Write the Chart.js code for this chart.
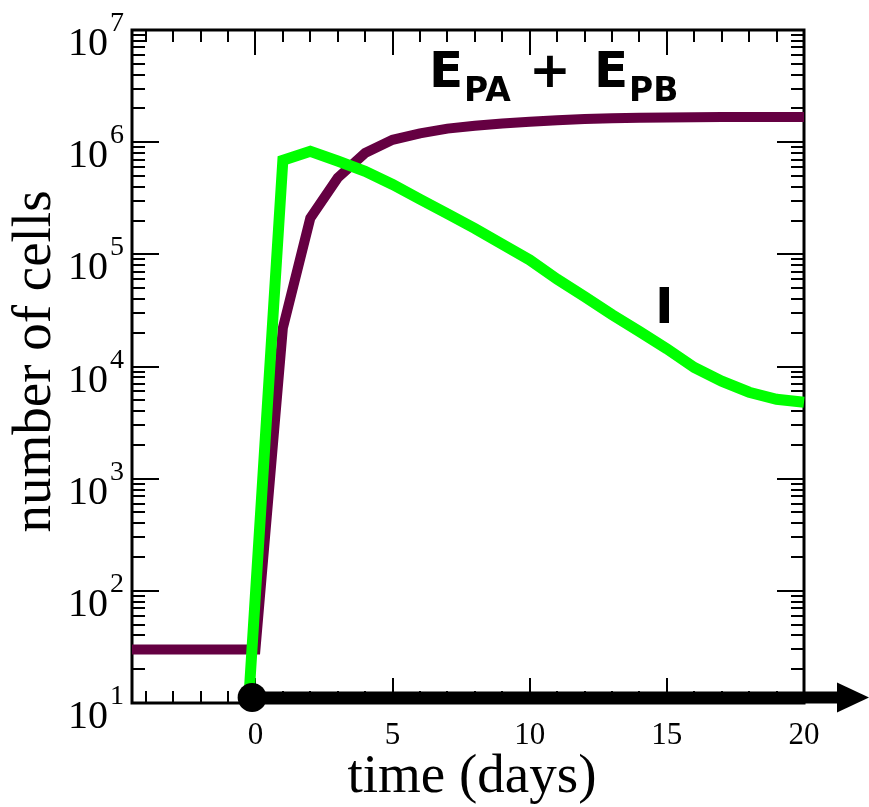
<!DOCTYPE html>
<html>
<head>
<meta charset="utf-8">
<script src="https://cdn.jsdelivr.net/npm/chart.js@4.4.1/dist/chart.umd.min.js"></script>
<style>
  html, body { margin: 0; padding: 0; background: #fff; }
  #wrap { width: 869px; height: 807px; }
</style>
</head>
<body>
<div id="wrap"><canvas id="cells" width="869" height="807"></canvas></div>
<script>
// effector cells (E_PA + E_PB)
const effectorDays = [-4.5, 0, 1, 2, 3, 4, 5, 6, 7, 8, 9, 10, 11, 12, 13, 14, 15, 16, 17, 18, 19, 20];
const effectorCells = [30, 30, 2.2e4, 2.1e5, 4.8e5, 8.0e5, 1.05e6, 1.2e6, 1.32e6, 1.4e6, 1.47e6, 1.52e6,
  1.57e6, 1.61e6, 1.63e6, 1.65e6, 1.66e6, 1.67e6, 1.68e6, 1.68e6, 1.68e6, 1.68e6];

// infected cells (I)
const infectedDays = [-0.25, 1, 2, 3, 4, 5, 6, 7, 8, 9, 10, 11, 12, 13, 14, 15, 16, 17, 18, 19, 20];
const infectedCells = [10, 6.9e5, 8.3e5, 6.8e5, 5.5e5, 4.2e5, 3.1e5, 2.3e5, 1.7e5, 1.23e5, 8.9e4,
  6.0e4, 4.2e4, 2.9e4, 2.05e4, 1.44e4, 9.8e3, 7.4e3, 5.9e3, 5.1e3, 4.8e3];

const xTickLabels = [0, 5, 10, 15, 20];
const yTickExponents = [1, 2, 3, 4, 5, 6, 7];

const toPoints = (xs, ys) => xs.map((d, i) => ({ x: d, y: ys[i] }));

function line(ctx, x1, y1, x2, y2) {
  ctx.beginPath();
  ctx.moveTo(x1, y1);
  ctx.lineTo(x2, y2);
  ctx.stroke();
}

// box, inward ticks on all four sides
const frame = {
  id: 'frame',
  beforeDatasetsDraw(chart) {
    const { ctx, chartArea: a, scales: { x, y } } = chart;
    ctx.save();
    ctx.strokeStyle = '#000';
    ctx.lineWidth = 2;
    for (let d = -4; d <= 20; d++) {
      const px = Math.round(x.getPixelForValue(d));
      const len = d % 5 === 0 ? 25 : 12;
      line(ctx, px, a.bottom, px, a.bottom - len);
      line(ctx, px, a.top, px, a.top + len);
    }
    for (let e = 1; e <= 7; e++) {
      for (let m = 1; m <= 9; m++) {
        const v = m * Math.pow(10, e);
        if (v > 1e7) break;
        const py = Math.round(y.getPixelForValue(v));
        const len = m === 1 ? 27 : 13;
        line(ctx, a.left, py, a.left + len, py);
        line(ctx, a.right, py, a.right - len, py);
      }
    }
    ctx.lineWidth = 3;
    ctx.strokeRect(a.left, a.top, a.right - a.left, a.bottom - a.top);
    ctx.restore();
  },
  afterDraw(chart) {
    const { ctx, chartArea: a, scales: { x, y } } = chart;
    ctx.save();
    ctx.fillStyle = '#000';
    ctx.strokeStyle = '#000';

    // time arrow starting at infection
    const x0 = x.getPixelForValue(0);
    const ay = a.bottom - 5.5;
    ctx.lineWidth = 12;
    line(ctx, x0, ay, a.right + 43, ay);
    ctx.beginPath();
    ctx.moveTo(a.right + 33, ay - 15);
    ctx.lineTo(a.right + 65, ay);
    ctx.lineTo(a.right + 33, ay + 15);
    ctx.closePath();
    ctx.fill();
    ctx.beginPath();
    ctx.arc(x.getPixelForValue(-0.12), ay, 14.5, 0, Math.PI * 2);
    ctx.fill();

    // tick labels
    ctx.font = '31px "Liberation Serif"';
    ctx.textAlign = 'center';
    ctx.textBaseline = 'alphabetic';
    xTickLabels.forEach(d => ctx.fillText(String(d), x.getPixelForValue(d), a.bottom + 41));

    yTickExponents.forEach(e => {
      const py = y.getPixelForValue(Math.pow(10, e));
      ctx.font = '40px "Liberation Serif"';
      ctx.textAlign = 'right';
      ctx.fillText('10', a.left - 24, py + 25);
      ctx.font = '28px "Liberation Serif"';
      ctx.textAlign = 'left';
      ctx.fillText(String(e), a.left - 22, py + 1);
    });

    // axis titles
    ctx.font = '55px "Liberation Serif"';
    ctx.textAlign = 'center';
    ctx.fillText('time (days)', (a.left + a.right) / 2 + 4, 792);
    ctx.save();
    ctx.translate(50, (a.top + a.bottom) / 2 - 5);
    ctx.rotate(-Math.PI / 2);
    ctx.fillText('number of cells', 0, 0);
    ctx.restore();

    // curve labels
    ctx.textAlign = 'left';
    ctx.font = 'bold 50px "DejaVu Sans"';
    ctx.fillText('E', 429, 87);
    ctx.fillText('+', 529, 87);
    ctx.fillText('E', 594, 87);
    ctx.fillText('I', 655, 323);
    ctx.font = 'bold 33px "DejaVu Sans"';
    ctx.fillText('PA', 464, 101);
    ctx.fillText('PB', 629, 101);
    ctx.restore();
  }
};

new Chart(document.getElementById('cells'), {
  type: 'line',
  data: {
    datasets: [
      {
        label: 'I',
        data: toPoints(infectedDays, infectedCells),
        borderColor: '#00ff00',
        borderWidth: 11,
        pointRadius: 0,
        tension: 0,
        clip: { left: 6, right: 8, top: 0, bottom: 0 },
        order: 0
      },
      {
        label: 'E_PA + E_PB',
        data: toPoints(effectorDays, effectorCells),
        borderColor: '#650042',
        borderWidth: 10,
        pointRadius: 0,
        tension: 0,
        clip: { left: 6, right: 8, top: 0, bottom: 0 },
        order: 1
      }
    ]
  },
  options: {
    responsive: false,
    animation: false,
    layout: { padding: { left: 132, top: 30, right: 65, bottom: 104 } },
    plugins: { legend: { display: false }, tooltip: { enabled: false } },
    scales: {
      x: { type: 'linear', min: -4.5, max: 20, display: false },
      y: { type: 'logarithmic', min: 10, max: 1e7, display: false }
    }
  },
  plugins: [frame]
});
</script>
</body>
</html>
